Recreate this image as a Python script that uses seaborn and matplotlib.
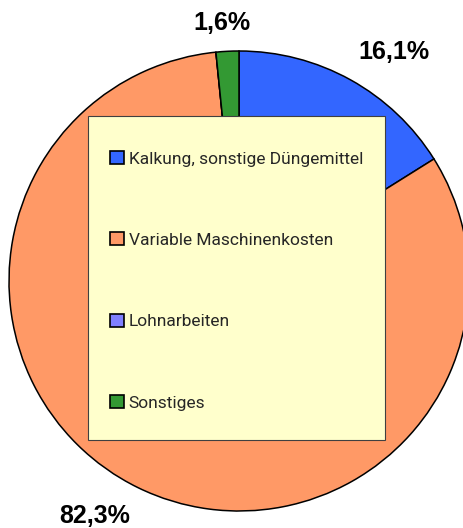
import matplotlib
matplotlib.use("Agg")
import matplotlib.pyplot as plt
import seaborn as sns
from matplotlib.patches import Rectangle
from matplotlib import font_manager

categories = ["Kalkung, sonstige Düngemittel", "Variable Maschinenkosten", "Lohnarbeiten", "Sonstiges"]
values = [16.1, 82.3, 0.0, 1.6]
labels = ["16,1%", "82,3%", "", "1,6%"]
colors = ["#3366FF", "#FF9966", "#8080FF", "#339933"]

sns.set_theme(style="white")
names = {f.name for f in font_manager.fontManager.ttflist}
narrow = "Liberation Sans Narrow" if "Liberation Sans Narrow" in names else "Roboto"
plt.rcParams['font.family'] = ['Liberation Sans', 'DejaVu Sans']

W, H = 464, 528
fig = plt.figure(figsize=(W / 100, H / 100), dpi=100)
ax = fig.add_axes([0, 0, 1, 1])

cx, cy, r = 239, H - 281, 230
wedges, _ = ax.pie(values, colors=colors, startangle=90, counterclock=False,
                   center=(cx, cy), radius=r,
                   wedgeprops=dict(edgecolor="black", linewidth=1.1))
ax.set_xlim(0, W)
ax.set_ylim(0, H)
ax.set_aspect("equal")
ax.axis("off")

# percentage labels
label_pos = {"16,1%": (394, H - 52), "82,3%": (95, H - 516), "1,6%": (222, H - 23)}
for lab in labels:
    if lab:
        x, y = label_pos[lab]
        ax.text(x, y, lab, ha="center", va="center", fontsize=18,
                fontweight="bold", color="black")

# legend box
ax.add_patch(Rectangle((88, H - 440), 297, 324, facecolor="#FFFFCC",
                       edgecolor="#404040", linewidth=0.8, zorder=3))
leg = ax.legend(wedges, categories, loc="upper left",
                bbox_to_anchor=(110, H - 151), bbox_transform=ax.transData,
                frameon=False, borderpad=0, borderaxespad=0,
                prop={"family": narrow, "size": 12.5},
                labelspacing=3.79, handlelength=0.78, handleheight=0.78,
                handletextpad=0.3)
leg.set_zorder(4)
for h in leg.legend_handles:
    h.set_edgecolor("black")
    h.set_linewidth(1.2)

fig.savefig("out.png", dpi=100)
